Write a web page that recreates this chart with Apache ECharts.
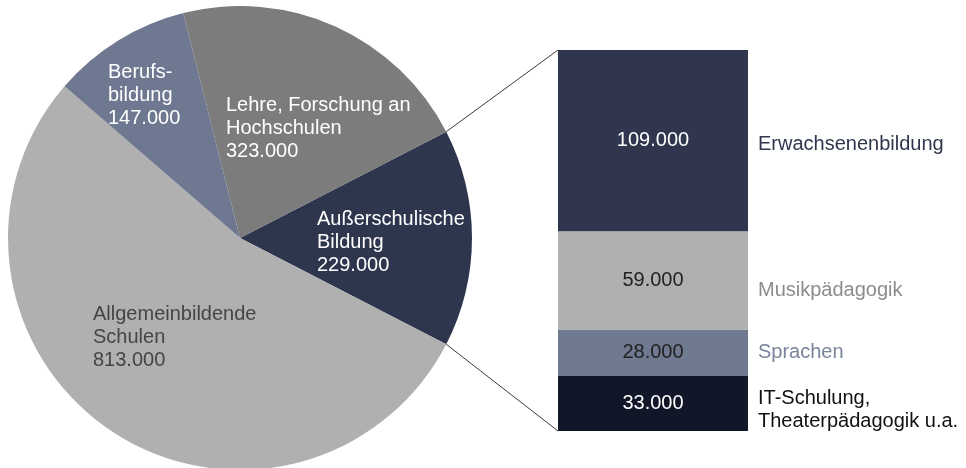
<!DOCTYPE html>
<html><head><meta charset="utf-8">
<script src="https://cdn.jsdelivr.net/npm/echarts@6/dist/echarts.min.js"></script>
<style>html,body{margin:0;padding:0;background:#fff}#c{width:966px;height:468px}</style>
</head><body><div id="c"></div>
<script>
// ---- data ----
const pieNames = ['Außerschulische\nBildung', 'Allgemeinbildende\nSchulen', 'Berufs-\nbildung', 'Lehre, Forschung an\nHochschulen'];
const pieValues = [229000, 813000, 147000, 323000];
const barCategory = ['Außerschulische Bildung'];
const barNames = ['IT-Schulung,\nTheaterpädagogik u.a.', 'Sprachen', 'Musikpädagogik', 'Erwachsenenbildung'];
const barValues = [33000, 28000, 59000, 109000];

// ---- styles / layout ----
const FONT = 'Liberation Sans, Arial, sans-serif';
const FS = 20, LH = 23;
const pieColors = ['#2e364d', '#b0b0b0', '#6e7890', '#7c7c7c'];
const pieLabelColors = ['#ffffff', '#454545', '#ffffff', '#ffffff'];
const pieLabelPos = [[77, 4], [-147, 99], [-132, -143], [-14, -110]]; // relative to pie center
const barColors = ['#111629', '#6f7990', '#b0b0b0', '#2f364d'];
const barValueColors = ['#ffffff', '#222222', '#222222', '#ffffff'];
const barNameColors = ['#111111', '#7a849b', '#8c8c8c', '#2f364d'];
const barNameOffsets = [[0, 6], [0, 0], [0, 10], [0, 4]];
const CX = 240, CY = 238, R = 232;
const G = {left: 558, width: 190, top: 50, height: 381};

const fmt = v => String(v).replace(/\B(?=(\d{3})+(?!\d))/g, '.');
const pieTotal = pieValues.reduce((a, b) => a + b, 0);
const barTotal = barValues.reduce((a, b) => a + b, 0);
const startAngle = pieValues[0] / pieTotal * 180;

const chart = echarts.init(document.getElementById('c'), null, {renderer: 'canvas'});
const series = [{
  type: 'pie', center: [CX, CY], radius: R, startAngle: startAngle, clockwise: true,
  silent: true, animation: false,
  itemStyle: {borderWidth: 0},
  data: pieValues.map((v, i) => ({name: pieNames[i], value: v,
    itemStyle: {color: pieColors[i]}, label: {color: pieLabelColors[i]}})),
  label: {show: true, position: 'inside', formatter: p => p.name + '\n' + fmt(p.value),
    fontSize: FS, lineHeight: LH, fontFamily: FONT},
  labelLine: {show: false},
  labelLayout: p => ({x: CX + pieLabelPos[p.dataIndex][0], y: CY + pieLabelPos[p.dataIndex][1],
    align: 'left', verticalAlign: 'middle'})
}];
barValues.forEach((v, i) => {
  series.push({
    type: 'bar', stack: 'values', name: barNames[i], data: [v], barWidth: '100%', barGap: '-100%',
    silent: true, animation: false,
    itemStyle: {color: barColors[i]},
    label: {show: true, position: 'inside', formatter: p => fmt(p.value), color: barValueColors[i],
      fontSize: FS, fontFamily: FONT}
  });
});
barValues.forEach((v, i) => {
  series.push({
    type: 'bar', stack: 'names', name: barNames[i] + ' ', data: [v], barWidth: '100%', barGap: '-100%',
    silent: true, animation: false,
    itemStyle: {color: 'rgba(0,0,0,0)'},
    label: {show: true, position: 'right', distance: 10, formatter: () => barNames[i],
      color: barNameColors[i], fontSize: FS, lineHeight: LH, fontFamily: FONT, offset: barNameOffsets[i]}
  });
});

chart.setOption({
  animation: false,
  grid: G,
  xAxis: {type: 'category', data: barCategory, show: false},
  yAxis: {type: 'value', min: 0, max: barTotal, show: false},
  series: series
});

const topY = chart.convertToPixel({yAxisIndex: 0}, barTotal);
const botY = chart.convertToPixel({yAxisIndex: 0}, 0);
const half = pieValues[0] / pieTotal * Math.PI;
const px = CX + R * Math.cos(half), pyTop = CY - R * Math.sin(half), pyBot = CY + R * Math.sin(half);
chart.setOption({
  graphic: [
    {type: 'line', silent: true, z: 100, shape: {x1: px, y1: pyTop, x2: G.left, y2: topY}, style: {stroke: '#3a3a3a', lineWidth: 1}},
    {type: 'line', silent: true, z: 100, shape: {x1: px, y1: pyBot, x2: G.left, y2: botY}, style: {stroke: '#3a3a3a', lineWidth: 1}}
  ]
});
</script></body></html>
